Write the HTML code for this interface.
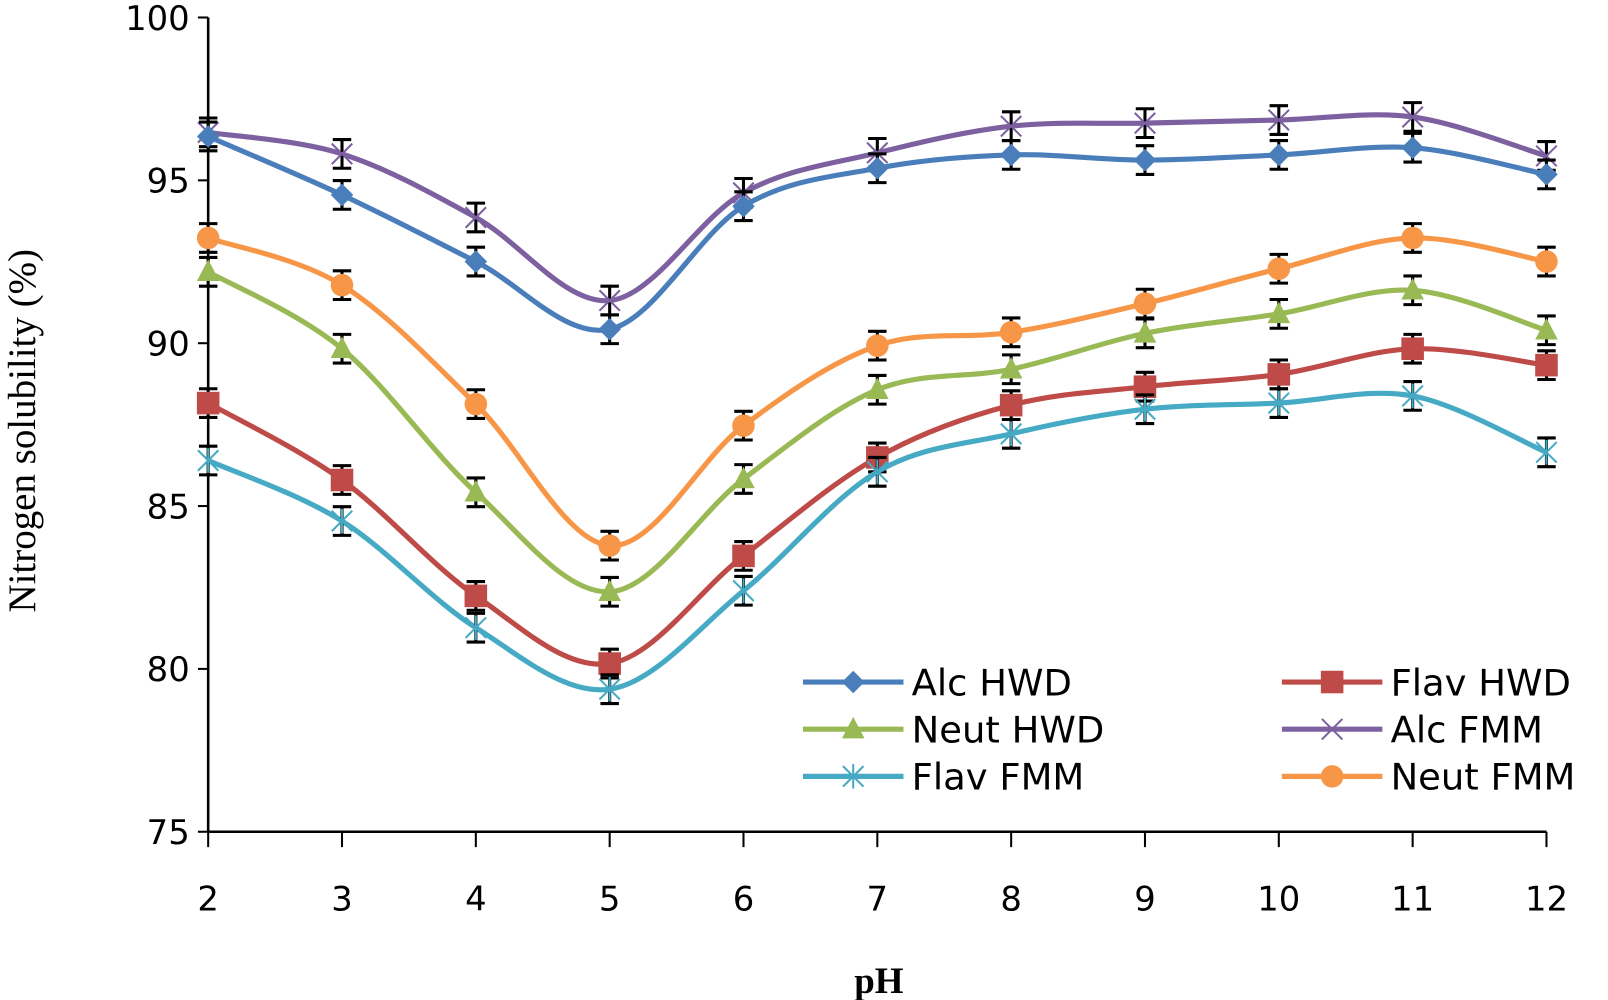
<!DOCTYPE html>
<html><head><style>html,body{margin:0;padding:0;background:#fff;}svg{display:block}</style></head>
<body>
<svg id="s" width="1608" height="1000" viewBox="0 0 1568 975" xmlns="http://www.w3.org/2000/svg">
<rect width="1568" height="975" fill="#fff"/>
<g stroke="#000" stroke-width="2.5">
<line x1="203" y1="17" x2="203" y2="811"/>
<line x1="203" y1="811" x2="1508" y2="811"/>
</g>
<g id="ticks" stroke="#000" stroke-width="2"></g>
<g font-family="'DejaVu Sans','Liberation Sans',sans-serif" font-size="33" fill="#000">
<g text-anchor="end" id="ylab"></g>
<g text-anchor="middle" id="xlab"></g>
</g>
<text x="857" y="968" font-family="'Liberation Serif',serif" font-size="36" font-weight="bold" text-anchor="middle">pH</text>
<text transform="translate(34,420) rotate(-90)" font-family="'Liberation Serif',serif" font-size="38" text-anchor="middle">Nitrogen solubility (%)</text>
<g id="series"></g>
<g id="legend" font-family="'DejaVu Sans','Liberation Sans',sans-serif" font-size="36" fill="#000"></g>
</svg>
<script>
const NS="http://www.w3.org/2000/svg";
function el(t,a,p){const e=document.createElementNS(NS,t);for(const k in a)e.setAttribute(k,a[k]);p.appendChild(e);return e;}
const X=i=>203+130.5*i, Y=v=>811-(v-75)*31.76;
const tk=document.getElementById('ticks'),yl=document.getElementById('ylab'),xl=document.getElementById('xlab');
for(let v=75;v<=100;v+=5){el('line',{x1:193,x2:203,y1:Y(v),y2:Y(v)},tk);el('text',{x:185,y:Y(v)+12},yl).textContent=v;}
for(let i=0;i<=10;i++){el('line',{x1:X(i),x2:X(i),y1:811,y2:826},tk);el('text',{x:X(i),y:888},xl).textContent=i+2;}
const S=[
 {n:'Alc FMM',c:'#7d60a0',m:'x',y:[129,150,212,293,188,149,123,120,117,114,152]},
 {n:'Alc HWD',c:'#4a7ebb',m:'d',y:[133,190,255,321,201,164,151,156,151,144,170]},
 {n:'Neut FMM',c:'#f79646',m:'o',y:[232,278,394,532,415,337,324,296,262,232,255]},
 {n:'Neut HWD',c:'#98b954',m:'t',y:[265,340,480,577,467,380,360,325,306,283,322]},
 {n:'Flav HWD',c:'#be4b48',m:'s',y:[393,468,581,647,542,446,395,377,365,340,356]},
 {n:'Flav FMM',c:'#46aac5',m:'a',y:[449,508,612,672,576,460,423,399,393,386,441]}];
const sg=document.getElementById('series');
function marker(m,x,y,c,g){
 if(m=='d')el('path',{d:`M${x} ${y-11}L${x+11} ${y}L${x} ${y+11}L${x-11} ${y}Z`,fill:c},g);
 else if(m=='s')el('rect',{x:x-11,y:y-11,width:22,height:22,fill:c},g);
 else if(m=='t')el('path',{d:`M${x} ${y-12}L${x+11} ${y+9}L${x-11} ${y+9}Z`,fill:c},g);
 else if(m=='o')el('circle',{cx:x,cy:y,r:11,fill:c},g);
 else if(m=='x')el('path',{d:`M${x-10} ${y-10}L${x+10} ${y+10}M${x-10} ${y+10}L${x+10} ${y-10}`,stroke:c,'stroke-width':2},g);
 else el('path',{d:`M${x-10} ${y-10}L${x+10} ${y+10}M${x-10} ${y+10}L${x+10} ${y-10}M${x} ${y-12}L${x} ${y+12}`,stroke:c,'stroke-width':2},g);
}
S.forEach(s=>{
 const p=s.y.map((y,i)=>[X(i),y]);
 let d=`M${p[0][0]} ${p[0][1]}`;
 for(let i=0;i<p.length-1;i++){const p0=p[Math.max(0,i-1)],p1=p[i],p2=p[i+1],p3=p[Math.min(p.length-1,i+2)];
  d+=`C${p1[0]+(p2[0]-p0[0])/6} ${p1[1]+(p2[1]-p0[1])/6} ${p2[0]-(p3[0]-p1[0])/6} ${p2[1]-(p3[1]-p1[1])/6} ${p2[0]} ${p2[1]}`;}
 el('path',{d,fill:'none',stroke:s.c,'stroke-width':5},sg);
 p.forEach(([x,y])=>{const e=14;el('path',{d:`M${x} ${y-e}V${y+e}M${x-9} ${y-e}H${x+9}M${x-9} ${y+e}H${x+9}`,stroke:'#000','stroke-width':3,fill:'none'},sg);marker(s.m,x,y,s.c,sg);});
});
const lg=document.getElementById('legend');
const L=[['Alc HWD',0,0],['Flav HWD',1,0],['Neut HWD',0,1],['Alc FMM',1,1],['Flav FMM',0,2],['Neut FMM',1,2]];
L.forEach(([n,c,r])=>{const s=S.find(q=>q.n==n);const x0=c?1250:783,y=665+r*46;
 el('line',{x1:x0,x2:x0+98,y1:y,y2:y,stroke:s.c,'stroke-width':5},lg);marker(s.m,x0+49,y,s.c,lg);
 el('text',{x:x0+106,y:y+13},lg).textContent=n;});
</script>
</body></html>
